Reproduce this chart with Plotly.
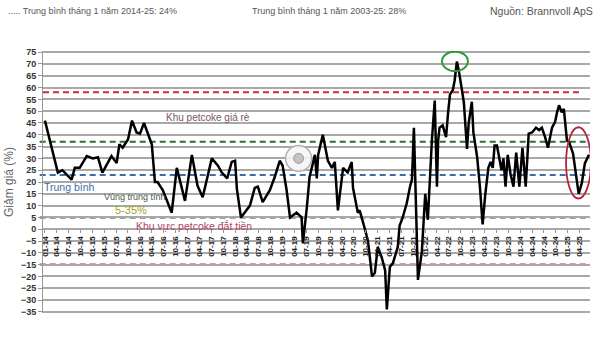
import plotly.graph_objects as go

# ---------------- data ----------------
dates = [
    "2014-01-01", "2014-02-15", "2014-04-10", "2014-05-15", "2014-07-25", "2014-08-18", "2014-09-25", "2014-11-18",
    "2015-01-04", "2015-02-12", "2015-03-18", "2015-05-27", "2015-07-06", "2015-07-27", "2015-08-21", "2015-10-01",
    "2015-11-01", "2015-12-06", "2016-01-01", "2016-02-01", "2016-03-01", "2016-04-01", "2016-04-25", "2016-05-15",
    "2016-06-25", "2016-09-01", "2016-10-10", "2016-12-12", "2017-02-03", "2017-03-18", "2017-04-27", "2017-07-06",
    "2017-08-21", "2017-09-21", "2017-11-01", "2017-12-06", "2018-01-01", "2018-01-15", "2018-02-15", "2018-03-15",
    "2018-04-25", "2018-06-01", "2018-06-25", "2018-08-01", "2018-09-25", "2018-11-01", "2018-12-10", "2019-01-01",
    "2019-02-01", "2019-02-27", "2019-04-18", "2019-05-27", "2019-06-06", "2019-07-06", "2019-07-27", "2019-09-06",
    "2019-09-21", "2019-10-01", "2019-11-06", "2019-12-15", "2020-01-15", "2020-02-06", "2020-03-01", "2020-04-10",
    "2020-05-15", "2020-06-15", "2020-06-25", "2020-08-01", "2020-08-15", "2020-09-25", "2020-10-18", "2020-11-18",
    "2020-12-10", "2021-01-01", "2021-02-01", "2021-02-27", "2021-03-12", "2021-04-04", "2021-04-27", "2021-06-04",
    "2021-06-18", "2021-07-12", "2021-08-12", "2021-09-06", "2021-09-21", "2021-10-06", "2021-11-06", "2021-12-06",
    "2022-01-01", "2022-01-21", "2022-02-21", "2022-03-15", "2022-04-01", "2022-04-10", "2022-04-21", "2022-05-15",
    "2022-06-10", "2022-06-25", "2022-07-10", "2022-08-01", "2022-08-15", "2022-09-01", "2022-09-15", "2022-10-10",
    "2022-10-25", "2022-11-18", "2022-12-01", "2022-12-25", "2023-01-06", "2023-02-04", "2023-02-25", "2023-03-18",
    "2023-04-06", "2023-05-01", "2023-05-18", "2023-06-04", "2023-06-18", "2023-07-06", "2023-07-21", "2023-08-10",
    "2023-08-25", "2023-09-10", "2023-09-27", "2023-10-18", "2023-11-10", "2023-12-01", "2023-12-25", "2024-01-18",
    "2024-02-12", "2024-03-06", "2024-04-01", "2024-05-01", "2024-05-25", "2024-06-15", "2024-07-10", "2024-08-01",
    "2024-09-01", "2024-09-25", "2024-10-10", "2024-10-25", "2024-11-15", "2024-12-01", "2024-12-25", "2025-01-10",
    "2025-02-10", "2025-03-10", "2025-03-25", "2025-04-18", "2025-05-12", "2025-06-12",
]
discount = [
    46, 36, 24, 25, 21, 26, 26, 31,
    30, 30.5, 24, 31, 28, 36, 34.5, 38,
    46, 41, 40.5, 45, 40.5, 36, 20, 20,
    16.5, 7, 26, 12, 31.5, 18.5, 13.5, 30,
    27, 24, 21.5, 28.5, 29, 17, 5, 7,
    10, 17.5, 18, 11.5, 16.5, 22, 29, 27,
    16.5, 5, 7, 5, -6, 9, 22, 31.5,
    21.5, 31.5, 40, 29, 26, 28.5, 8, 26,
    24, 28.5, 17.5, 7, 8, 0, -5, -20,
    -18.5, -7.5, -12, -17.5, -34, -16, -14.5, -7.5,
    1.5, 5, 11, 18, 21, 43, -21.5, -9.5,
    15, 4, 37.5, 54.5, 18, 37.5, 43, 44,
    39, 49, 57, 59, 63, 71, 67.5, 59,
    53.5, 34, 45, 54, 41, 30.5, 18, 2,
    14, 26, 28.5, 26, 35.5, 35.5, 31, 25,
    30, 18, 31.5, 23.5, 18, 32.5, 18, 34.5,
    18, 40.5, 41, 43, 42, 43, 39, 34.5,
    43, 45.5, 49.5, 52.5, 49.5, 51, 37.5, 37,
    32, 21, 15, 19.5, 28, 31.5,
]

tick_dates = [f"{y}-{m:02d}-01" for y in range(2014, 2026) for m in (1, 4, 7, 10)][:46]
tick_labels = [
    "01-14", "04-14", "07-14", "10-14", "01-15", "04-15", "07-15", "10-15",
    "01-16", "04-16", "07-16", "10-16", "01-17", "04-17", "07-17", "10-17",
    "01-18", "04-18", "07-18", "10-18", "01-19", "04-19", "07-19", "10-19",
    "01-20", "04-20", "07-20", "10-20", "01-21", "04-21", "07-21", "10-21",
    "01-22", "04-22", "07-22", "10-22", "01-23", "04-23", "07-23", "10-23",
    "01-24", "04-24", "07-24", "10-24", "01-25", "04-25",
]

# reference levels (%)
cheap_upper = 58      # red upper
neutral_upper = 37    # green upper
average_level = 23    # blue average
neutral_lower = 5     # dark green lower
costly_lower = -15    # red lower

# ---------------- figure ----------------
W, H = 600, 339
L, R, T, B = 43, 10, 51, 26
PW, PH = W - L - R, H - T - B
YMIN, YMAX = -35.5, 75.5


def px(xp):
    return (xp - L) / PW


def py(yp):
    return (H - B - yp) / PH


fig = go.Figure()

fig.add_trace(go.Scatter(
    x=dates, y=discount, mode="lines",
    line=dict(color="black", width=2.5),
    showlegend=False, hoverinfo="skip",
))

levels = [
    (cheap_upper, "#c9283c", 0.0, 0.985),
    (neutral_upper, "#2f6b34", -0.006, 1.0),
    (average_level, "#3c6ea6", -0.006, 1.0),
    (neutral_lower, "#1f5a32", -0.006, 1.0),
    (costly_lower, "#c9283c", -0.006, 1.0),
]
for yv, col, x0, x1 in levels:
    fig.add_shape(type="line", xref="x domain", yref="y", x0=x0, x1=x1, y0=yv, y1=yv,
                  line=dict(color=col, width=2, dash="6px,4px"), layer="below")

# highlight ellipses
fig.add_shape(type="circle", xref="x", yref="y", x0="2022-05-10", x1="2022-11-25", y0=67, y1=75.3,
              line=dict(color="#2e9a3e", width=2))
fig.add_shape(type="circle", xref="x", yref="y", x0="2024-12-18", x1="2025-06-27", y0=13, y1=43.2,
              line=dict(color="#b3263c", width=1.8))

# grey target icon
fig.add_shape(type="circle", xref="x", yref="y", xsizemode="pixel", ysizemode="pixel",
              xanchor="2019-05-04", yanchor=30, x0=-13, x1=13, y0=-13, y1=13,
              fillcolor="rgba(245,245,245,0.9)", line=dict(color="#b0b0b0", width=1.5))
fig.add_shape(type="circle", xref="x", yref="y", xsizemode="pixel", ysizemode="pixel",
              xanchor="2019-05-04", yanchor=30, x0=-5, x1=5, y0=-5, y1=5,
              fillcolor="#c4c4c4", line=dict(color="#9a9a9a", width=1))

FONT = "Liberation Sans, Arial, sans-serif"


def note(text, xp, yp, size, color, anchor="left"):
    fig.add_annotation(text=text, x=px(xp), y=py(yp), xref="paper", yref="paper",
                       xanchor=anchor, yanchor="middle", showarrow=False,
                       font=dict(family=FONT, size=size, color=color))


note("..... Trung bình tháng 1 năm 2014-25: 24%", 6, 11, 9, "#555555")
note("Trung bình tháng 1 năm 2003-25: 28%", 250, 11, 9, "#555555")
note("Nguồn: Brannvoll ApS", 488, 11, 10.5, "#555555")
note("Khu petcoke giá rè", 208, 117, 10, "#7a5565", anchor="center")
note("Trung bình", 42, 187, 10.5, "#3c6ea6")
note("Vùng trung tính", 102, 197, 9, "#4a5a44")
note("5-35%", 113, 210, 11, "#9aa51e")
note("Khu vực petcoke đắt tiền", 134, 226, 10.5, "#b24462")

fig.update_layout(
    width=W, height=H,
    margin=dict(l=L, r=R, t=T, b=B),
    paper_bgcolor="white", plot_bgcolor="white",
    showlegend=False,
    xaxis=dict(
        type="date", range=["2013-12-17", "2025-06-20"],
        anchor="free", position=(0 - YMIN) / (YMAX - YMIN),
        tickmode="array", tickvals=tick_dates, ticktext=tick_labels,
        tickangle=-90, tickfont=dict(family=FONT, size=8, color="#222222", weight="bold"),
        ticks="outside", ticklen=3, tickcolor="#999999",
        showgrid=False, zeroline=False, showline=False,
    ),
    yaxis=dict(
        range=[YMIN, YMAX], tickmode="linear", tick0=-35, dtick=5,
        tickfont=dict(family=FONT, size=9, color="#333333", weight="bold"),
        ticks="outside", ticklen=4, tickcolor="#999999",
        showgrid=True, gridcolor="#a8a8a8", gridwidth=1.6,
        zeroline=False, showline=True, linecolor="#999999", linewidth=1,
        title=dict(text="Giảm giá (%)", font=dict(family=FONT, size=12, color="#666666"), standoff=4),
    ),
)

fig.write_html("out.html")
